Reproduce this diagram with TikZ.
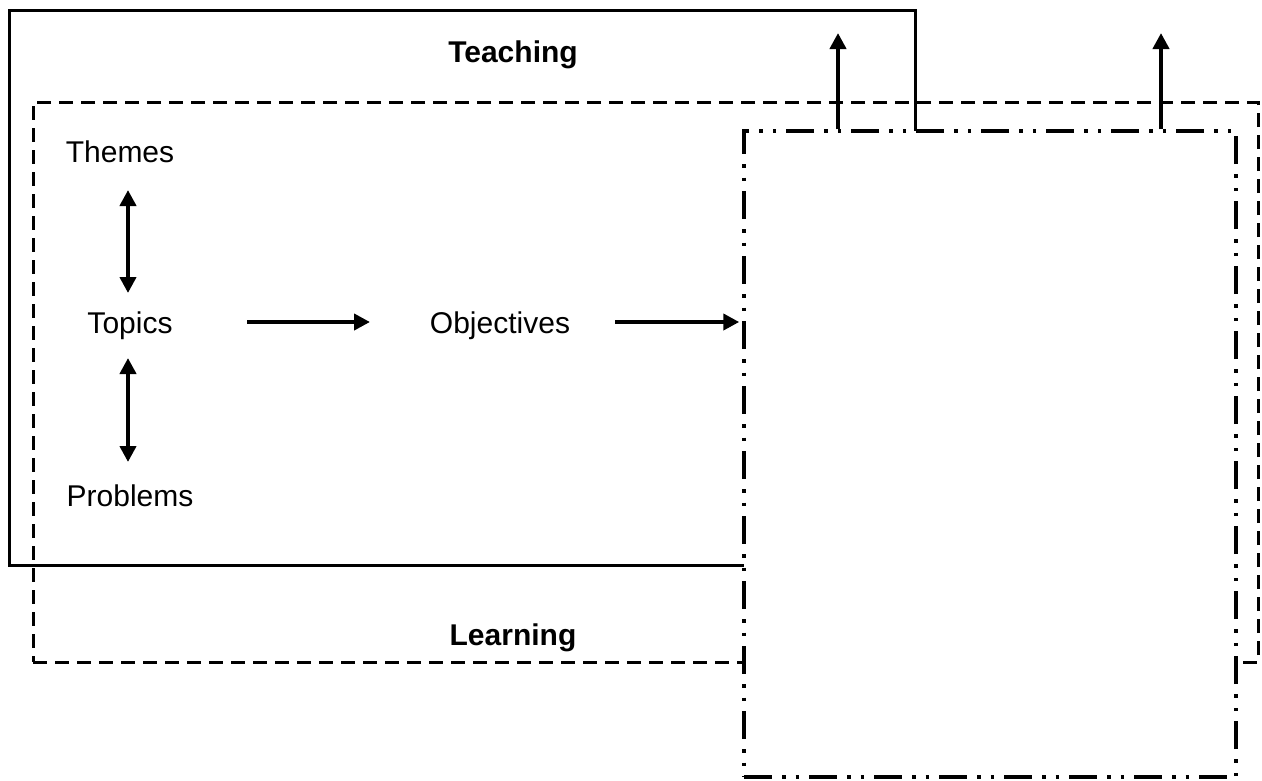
\documentclass[tikz,border=0pt]{standalone}
\usepackage{fontspec}
\setmainfont{Liberation Sans}
\usetikzlibrary{arrows.meta,calc}
\begin{document}
\begin{tikzpicture}[x=1pt,y=-1pt,
  lbl/.style={inner sep=0pt, anchor=base, font=\fontsize{30}{36}\selectfont},
  headlbl/.style={inner sep=0pt, anchor=base, font=\fontsize{30}{36}\selectfont\bfseries},
  frame/.style={draw, inner sep=0pt, line width=3pt},
  teachframe/.style={frame, minimum width=906pt, minimum height=555pt},
  learnframe/.style={frame, dash pattern=on 14pt off 8pt, minimum width=1225pt, minimum height=560pt},
  outframe/.style={frame, fill=white, line width=3.5pt,
    dash pattern=on 28pt off 10pt on 3.5pt off 10pt on 3.5pt off 10pt,
    minimum width=492pt, minimum height=646pt},
  arr/.style={line width=4.5pt, -{Triangle[width=16pt,length=16pt]}},
  dbl/.style={line width=4.5pt, {Triangle[width=16pt,length=16pt]}-{Triangle[width=16pt,length=16pt]}},
]
\useasboundingbox (0,0) rectangle (1262,780);

% frames
\node[teachframe] (teachbox) at (462,287.5) {};
\node[learnframe] (learnbox) at (645.5,382) {};
\node[outframe] (outbox) at (990,454) {};

% headings
\node[headlbl] (teaching) at (513,62) {Teaching};
\node[headlbl] (learning) at (513,645) {Learning};

% items
\node[lbl] (themes) at (120,162) {Themes};
\node[lbl] (topics) at (130,333) {Topics};
\node[lbl] (problems) at (130,506) {Problems};
\node[lbl] (objectives) at (500,333) {Objectives};

% free ends of the upward arrows
\coordinate (up1) at (838,33);
\coordinate (up2) at (1161,33);

% connectors
\draw[dbl] ($(themes.base -| 128,0)+(0,28)$) -- ($(topics.base -| 128,0)+(0,-40)$);
\draw[dbl] ($(topics.base -| 128,0)+(0,25)$) -- ($(problems.base -| 128,0)+(0,-44)$);
\draw[arr] ($(topics.base)+(117,-11)$) -- ($(objectives.base)+(-130,-11)$);
\draw[arr] ($(objectives.base)+(115,-11)$) -- ($(objectives.base -| outbox.west)+(-3,-11)$);
\draw[arr] (outbox.north -| up1) -- (up1);
\draw[arr] (outbox.north -| up2) -- (up2);
\end{tikzpicture}
\end{document}
